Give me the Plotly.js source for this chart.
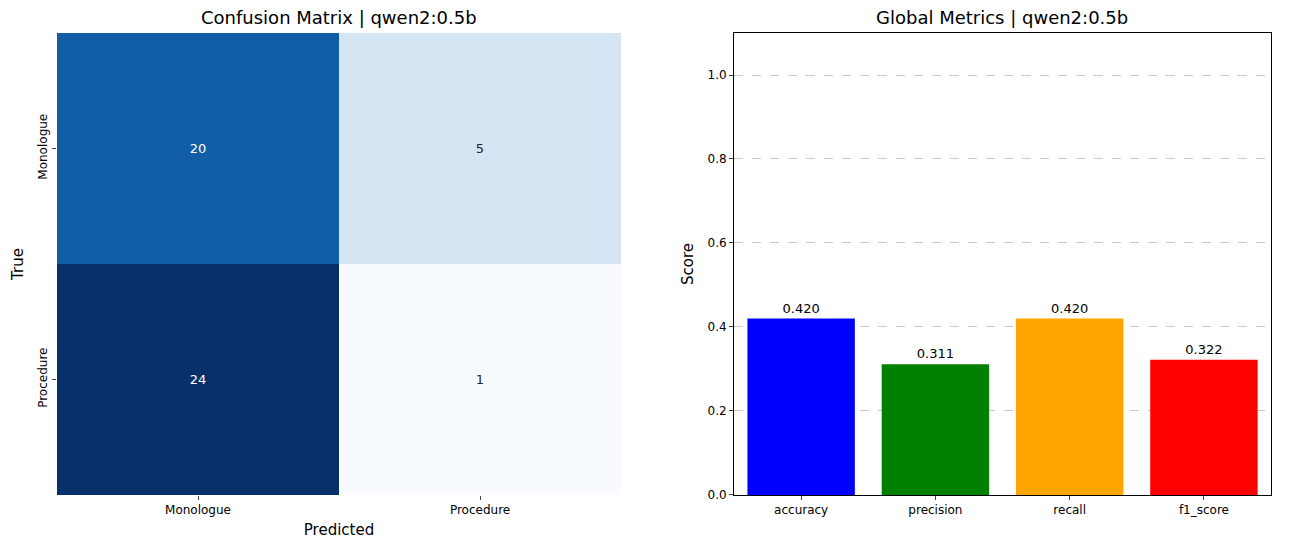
<!DOCTYPE html>
<html>
<head>
<script src="https://cdn.plot.ly/plotly-3.0.1.min.js"></script>
<style>body{margin:0}#chart{width:1307px;height:552px}</style>
</head>
<body>
<div id="chart"></div>
<script>
var classes = ["Monologue", "Procedure"];
var matrix = [[20, 5], [24, 1]];
var metrics = ["accuracy", "precision", "recall", "f1_score"];
var scores = [0.420, 0.311, 0.420, 0.322];
var barColors = ["blue", "green", "orange", "red"];

var blues = [
    [0, "#f7fbff"], [0.125, "#deebf7"], [0.25, "#c6dbef"], [0.375, "#9ecae1"],
    [0.5, "#6baed6"], [0.625, "#4292c6"], [0.75, "#2171b5"], [0.875, "#08519c"], [1, "#08306b"]
];

var textColors = matrix.map(function (row) {
    return row.map(function (v) { return v > 12 ? "white" : "#262626"; });
});

var data = [{
    type: "heatmap",
    x: classes, y: classes, z: matrix,
    colorscale: blues, zmin: 1, zmax: 24, showscale: false,
    text: matrix, texttemplate: "%{text}",
    textfont: { size: 13 },
    xaxis: "x", yaxis: "y", hoverinfo: "skip"
}, {
    type: "bar",
    x: metrics, y: scores,
    marker: { color: barColors },
    width: 0.8,
    text: scores.map(function (s) { return s.toFixed(3); }),
    textposition: "outside", cliponaxis: false,
    textfont: { size: 13, color: "black" },
    xaxis: "x2", yaxis: "y2"
}];

var font = { family: "DejaVu Sans", size: 12, color: "black" };

var layout = {
    width: 1307, height: 552,
    margin: { l: 0, r: 0, t: 0, b: 0 },
    font: font,
    showlegend: false,
    plot_bgcolor: "white", paper_bgcolor: "white",
    xaxis: {
        domain: [0.0436, 0.4752], ticks: "outside", ticklen: 4,
        title: { text: "Predicted", font: { size: 15 }, standoff: 8 },
        showgrid: false, zeroline: false
    },
    yaxis: {
        domain: [0.1033, 0.9402], autorange: "reversed", tickangle: -90,
        ticks: "outside", ticklen: 4,
        title: { text: "True", font: { size: 15 }, standoff: 8 },
        showgrid: false, zeroline: false
    },
    xaxis2: {
        domain: [0.5616, 0.9725], anchor: "y2", ticks: "outside", ticklen: 4,
        showline: true, linecolor: "black", mirror: true, showgrid: false
    },
    yaxis2: {
        domain: [0.1033, 0.9402], anchor: "x2", range: [0, 1.1],
        tickvals: [0, 0.2, 0.4, 0.6, 0.8, 1.0], tickformat: ".1f",
        ticks: "outside", ticklen: 4,
        showline: true, linecolor: "black", mirror: true,
        gridcolor: "#c8c8c8", griddash: "dash", zeroline: false,
        title: { text: "Score", font: { size: 15 }, standoff: 10 }
    },
    annotations: [{
        text: "Confusion Matrix | qwen2:0.5b", xref: "paper", yref: "paper",
        x: 0.2594, y: 0.945, xanchor: "center", yanchor: "bottom",
        showarrow: false, font: { size: 18 }
    }, {
        text: "Global Metrics | qwen2:0.5b", xref: "paper", yref: "paper",
        x: 0.767, y: 0.945, xanchor: "center", yanchor: "bottom",
        showarrow: false, font: { size: 18 }
    }]
};

data[0].textfont.color = undefined;
Plotly.newPlot("chart", data, layout, { displayModeBar: false }).then(function () {
    // heatmap text color per cell
    var texts = document.querySelectorAll(".hm text, g.heatmaplayer text");
    texts.forEach(function (t) {
        var v = parseInt(t.textContent, 10);
        t.style.fill = v > 12 ? "white" : "#262626";
    });
});
</script>
</body>
</html>
